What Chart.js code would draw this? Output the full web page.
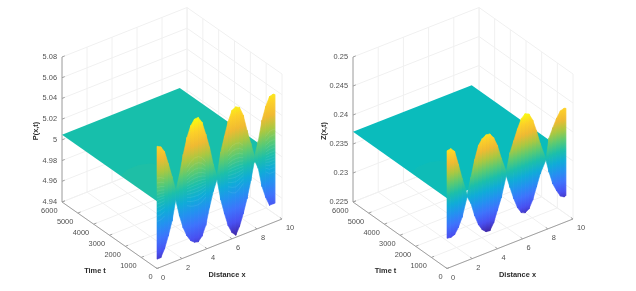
<!DOCTYPE html>
<html><head><meta charset="utf-8">
<style>html,body{margin:0;padding:0;background:#fff}canvas{position:absolute;top:0}#a{left:0}#b{left:318px}</style>
<script src="https://cdn.jsdelivr.net/npm/chart.js@4"></script>
</head><body>
<canvas id="a" width="318" height="291"></canvas>
<canvas id="b" width="318" height="291"></canvas>
<script>
const xTicks=[0,2,4,6,8,10];
const tTicks=[0,1000,2000,3000,4000,5000,6000];
const pTicks=[4.94,4.96,4.98,5,5.02,5.04,5.06,5.08];
const pTickLabels=['4.94','4.96','4.98','5','5.02','5.04','5.06','5.08'];
const zTicks=[0.225,0.23,0.235,0.24,0.245,0.25];
const zTickLabels=['0.225','0.23','0.235','0.24','0.245','0.25'];
const xMax=9.42, tMax=6000;
const pFlat=5.005, zFlat=0.2371;
const xP=[0,.3,.6,.9,1.2,1.5,1.8,2.1,2.4,2.7,3,3.3,3.6,3.9,4.2,4.5,4.8,5.1,5.4,5.7,6,6.3,6.6,6.9,7.2,7.5,7.8,8.1,8.4,8.7,9,9.3,9.42];
const pTop=[5.058,5.056,5.050,5.037,5.023,5.008,5.022,5.040,5.055,5.065,5.070,5.070,5.064,5.051,5.037,5.019,5.006,5.028,5.042,5.055,5.064,5.066,5.064,5.055,5.039,5.025,5.011,5.024,5.043,5.055,5.063,5.064,5.063];
const pBot=[4.949,4.949,4.956,4.967,4.980,4.999,4.982,4.969,4.960,4.954,4.951,4.950,4.954,4.963,4.979,4.993,5.003,4.982,4.967,4.954,4.946,4.942,4.949,4.960,4.973,4.989,5.007,4.998,4.979,4.967,4.958,4.958,4.958];
const xZ=[0,.3,.6,.9,1.2,1.6,1.9,2.2,2.5,2.8,3.1,3.4,3.7,4,4.3,4.7,5,5.3,5.6,5.9,6.2,6.5,6.8,7.1,7.4,7.85,8.1,8.4,8.7,9,9.3,9.42];
const zTop=[.2453,.2454,.2447,.2422,.2395,.2364,.2391,.2419,.2441,.2450,.2454,.2453,.2444,.2428,.2404,.2377,.2407,.2425,.2443,.2458,.2464,.2461,.2448,.2427,.2402,.2372,.2406,.2421,.2435,.2445,.2447,.2446];
const zBot=[.2302,.2301,.2303,.2313,.2328,.2360,.2346,.2322,.2304,.2293,.2287,.2286,.2297,.2316,.2335,.2370,.2347,.2325,.2307,.2296,.2293,.2297,.2310,.2330,.2350,.2370,.2347,.2324,.2310,.2298,.2294,.2295];
// faint swell on the flat sheet near the first crest
const swellX=[0,0,.8,1.7,2.5,2.8,1.8];
const swellT=[0,2300,2500,2500,2300,1400,0];
// ripple levels visible on the wave curtain of P, as fractions of the crest height
const pRipple=[.42,.33,.25,.18,.12,.06,.01,-.05,-.11,-.18,-.26,-.35];
const parula=[[62,38,168],[72,80,241],[62,115,252],[35,145,240],[15,172,215],[28,191,170],[90,202,115],[170,200,65],[240,186,50],[253,208,40],[249,251,14]];
const gridColor='#f0f0f0', axisColor='#a0a0a0', tickText='#505050', titleText='#2b2b2b';

function panel(id,cfg){
  const zLo=cfg.ticks[0], zHi=cfg.ticks[cfg.ticks.length-1];
  const P=(x,t,z)=>({x:cfg.ox+x*cfg.ex[0]/10+t*cfg.et[0]/tMax, y:cfg.oy+x*cfg.ex[1]/10+t*cfg.et[1]/tMax-(z-zLo)/(zHi-zLo)*145});
  const ds=[];
  const seg=(a,b,c,w)=>ds.push({data:[P(...a),P(...b)],borderColor:c,borderWidth:w||1,fill:false});
  for(const x of xTicks){seg([x,0,zLo],[x,tMax,zLo],gridColor);seg([x,tMax,zLo],[x,tMax,zHi],gridColor);}
  for(const t of tTicks){seg([0,t,zLo],[10,t,zLo],gridColor);seg([10,t,zLo],[10,t,zHi],gridColor);}
  for(const z of cfg.ticks){seg([0,tMax,z],[10,tMax,z],gridColor);seg([10,tMax,z],[10,0,z],gridColor);}
  seg([0,0,zLo],[10,0,zLo],axisColor);seg([0,0,zLo],[0,tMax,zLo],axisColor);seg([0,tMax,zLo],[0,tMax,zHi],axisColor);
  for(const x of xTicks)seg([x,0,zLo],[x,130,zLo],axisColor);
  for(const t of tTicks)seg([0,t,zLo],[.22,t,zLo],axisColor);
  for(const z of cfg.ticks)seg([0,tMax,z],[.22,tMax,z],axisColor);
  // flat part of the surface
  ds.push({data:[P(0,tMax,cfg.flat),P(xMax,tMax,cfg.flat),P(xMax,0,cfg.flat),P(0,0,cfg.flat)],
    backgroundColor:cfg.plate,borderWidth:0,fill:'shape'});
  ds.push({data:swellX.map((x,i)=>P(x,swellT[i],cfg.flat)),backgroundColor:cfg.swell,borderWidth:0,fill:'shape'});
  // wave curtain
  const grads={};
  const gradFor=(chart,i)=>{ if(grads[i])return grads[i];
    const xm=(cfg.xs[i]+cfg.xs[i+1])/2, ys=chart.scales.y;
    const y0=ys.getPixelForValue(P(xm,0,cfg.cMin).y), y1=ys.getPixelForValue(P(xm,0,cfg.cMax).y);
    if(!isFinite(y0)||!isFinite(y1))return axisColor;
    const g=chart.ctx.createLinearGradient(0,y0,0,y1);
    parula.forEach((c,k)=>g.addColorStop(k/(parula.length-1),'rgb('+c.join(',')+')'));
    return grads[i]=g;};
  for(let i=0;i<cfg.xs.length-1;i++){
    const n=i;
    ds.push({data:[P(cfg.xs[i],0,cfg.bot[i]),P(cfg.xs[i],0,cfg.top[i]),P(cfg.xs[i+1],0,cfg.top[i+1]),P(cfg.xs[i+1],0,cfg.bot[i+1]),P(cfg.xs[i],0,cfg.bot[i])],
      backgroundColor:c=>gradFor(c.chart,n),borderColor:c=>gradFor(c.chart,n),borderWidth:.6,fill:'shape'});
  }
  // ripple lines: each follows the curtain's own crest/trough outline at a fraction of its height
  for(const lev of cfg.ripple){
    let run=[];
    const flush=()=>{ if(run.length>2)ds.push({data:run,borderColor:cfg.rippleColor,borderWidth:.7,fill:false}); run=[]; };
    cfg.xs.forEach((x,i)=>{
      const h=lev>0?cfg.top[i]-cfg.flat:cfg.flat-cfg.bot[i];
      if(cfg.top[i]-cfg.bot[i]>cfg.rippleMin)run.push(P(x,0,cfg.flat+lev*h));
      else flush();
    });
    flush();
  }
  const text={id:'axisText',afterDraw(ch){
    const c=ch.ctx,sx=ch.scales.x,sy=ch.scales.y;
    const put=(s,p,dx,dy,al,f,col,rot)=>{c.save();c.font=f;c.fillStyle=col;c.textAlign=al;c.textBaseline='middle';
      c.translate(sx.getPixelForValue(p.x)+dx,sy.getPixelForValue(p.y)+dy);if(rot)c.rotate(-Math.PI/2);c.fillText(s,0,0);c.restore();};
    const F='7.4px "Liberation Sans"',B='bold 7.4px "Liberation Sans"';
    xTicks.forEach(x=>put(String(x),P(x,0,zLo),4,9,'left',F,tickText));
    tTicks.forEach(t=>put(String(t),P(0,t,zLo),-4.5,8.5,'right',F,tickText));
    cfg.ticks.forEach((z,i)=>put(cfg.labels[i],P(0,tMax,z),-5,0,'right',F,tickText));
    put('Distance x',P(5,0,zLo),7.5,31,'center',B,titleText);
    put('Time t',P(0,3000,zLo),-14.5,35.5,'center',B,titleText);
    put(cfg.title,P(0,tMax,(zLo+zHi)/2),cfg.titleDx,1.5,'center',B,titleText,true);
  }};
  new Chart(document.getElementById(id),{type:'scatter',
    data:{datasets:ds.reverse()},
    options:{responsive:false,animation:false,devicePixelRatio:1,layout:{padding:0},
      showLine:true,clip:false,
      elements:{point:{radius:0},line:{tension:0}},
      events:[],
      scales:{x:{type:'linear',min:0,max:318,display:false},y:{type:'linear',min:0,max:291,reverse:true,display:false}},
      plugins:{legend:{display:false},tooltip:{enabled:false},filler:{drawTime:'beforeDatasetDraw',propagate:false}}},
    plugins:[text]});
}
panel('a',{ox:157,oy:268.5,ex:[125,-49.5],et:[-95,-66.5],ticks:pTicks,labels:pTickLabels,flat:pFlat,xs:xP,top:pTop,bot:pBot,cMin:4.942,cMax:5.07,plate:'#17bfab',swell:'rgba(95,195,125,.1)',ripple:pRipple,rippleColor:'rgba(255,255,255,.12)',rippleMin:.085,title:'P(x,t)',titleDx:-26});
panel('b',{ox:129,oy:268.5,ex:[126,-49.5],et:[-94,-66.5],ticks:zTicks,labels:zTickLabels,flat:zFlat,xs:xZ,top:zTop,bot:zBot,cMin:.2286,cMax:.2464,plate:'#0abcbc',swell:'rgba(60,195,150,.1)',ripple:[],rippleColor:'rgba(255,255,255,.12)',rippleMin:.009,title:'Z(x,t)',titleDx:-29});
</script>
</body></html>
